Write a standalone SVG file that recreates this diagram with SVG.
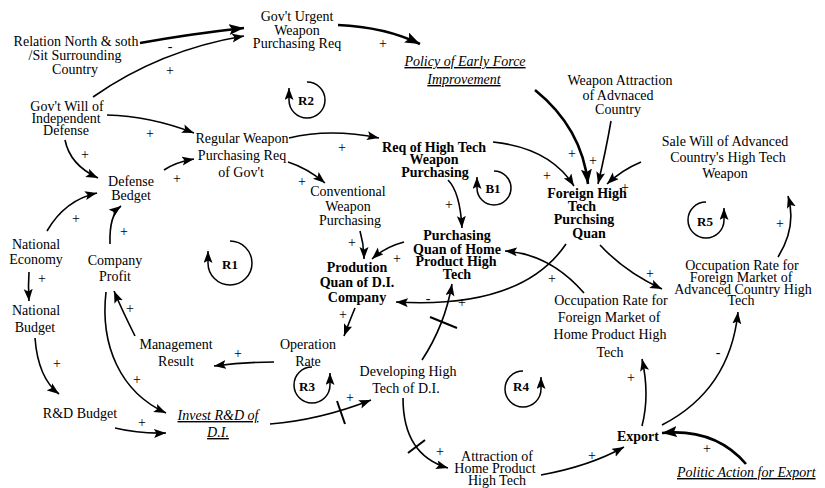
<svg xmlns="http://www.w3.org/2000/svg" width="825" height="488" viewBox="0 0 825 488">
<style>
text{font-family:"Liberation Serif","Times New Roman",serif}
.t{font-size:14px;fill:#000;text-anchor:middle}
.b{font-weight:bold}
.i{font-style:italic;text-decoration:underline}
.s{font-size:14px;fill:#000;text-anchor:middle;dominant-baseline:central}
.lp{font-size:13px;font-weight:bold;fill:#000;text-anchor:middle}
.c{fill:none;stroke:#000;stroke-width:1.6;marker-end:url(#ah)}
.k{fill:none;stroke:#000;stroke-width:2.6;marker-end:url(#ahL)}
.l{fill:none;stroke:#000;stroke-width:1.5;marker-end:url(#ah)}
.d{stroke:#000;stroke-width:2;fill:none}
</style>
<defs>
<marker id="ah" markerUnits="userSpaceOnUse" markerWidth="14" markerHeight="10" refX="12" refY="4.5" orient="auto">
<path d="M0,0 L12,4.5 L0,9 L2.5,4.5 z" fill="#000"/>
</marker>
<marker id="ahL" markerUnits="userSpaceOnUse" markerWidth="18" markerHeight="12" refX="15" refY="5.5" orient="auto">
<path d="M0,0 L15,5.5 L0,11 L3,5.5 z" fill="#000"/>
</marker>
</defs>
<rect width="825" height="488" fill="#fff"/>

<g id="connectors">
<path class="k" d="M140,43 Q190,34 244,28"/>
<path class="c" d="M93,97 Q160,50 244,36"/>
<path class="k" d="M338,25 Q385,27 420,44"/>
<path class="c" d="M107,115 Q150,116 194,133"/>
<path class="c" d="M65,140 Q70,165 98,178"/>
<path class="c" d="M47,231 Q65,200 97,193"/>
<path class="c" d="M110,244 Q109,215 121,206"/>
<path class="c" d="M164,170 Q176,162 194,159"/>
<path class="c" d="M289,138 Q330,128 379,138"/>
<path class="c" d="M288,162 Q307,168 325,183"/>
<path class="c" d="M448,180 Q460,192 462,228"/>
<path class="c" d="M493,142 Q550,148 574,186"/>
<path class="k" d="M535,90 Q582,128 588,184"/>
<path class="c" d="M611,121 Q606,150 598,184"/>
<path class="c" d="M641,162 Q622,170 607,184"/>
<path class="c" d="M360,231 Q364,245 364,259"/>
<path class="c" d="M404,242 Q385,247 372,259"/>
<path class="c" d="M566,244 C545,275 500,308 396,302"/>
<path class="c" d="M584,293 Q550,254 505,251"/>
<path class="c" d="M600,245 Q625,272 662,289"/>
<path class="c" d="M778,257 Q797,227 788,196"/>
<path class="c" d="M662,425 Q730,390 738,312"/>
<path class="c" d="M642,426 Q650,395 642,359"/>
<path class="c" d="M541,475 Q590,466 624,447"/>
<path class="k" d="M746,464 Q715,428 662,433"/>
<path class="c" d="M403,398 Q403,455 448,468"/>
<path class="c" d="M270,424 Q320,420 371,400"/>
<path class="c" d="M422,360 Q445,325 452,284"/>
<path class="c" d="M355,308 Q350,320 344,336"/>
<path class="c" d="M274,362 Q245,362 214,366"/>
<path class="c" d="M135,336 Q122,310 114,291"/>
<path class="c" d="M106,292 C100,345 120,392 166,413"/>
<path class="c" d="M29,272 Q28,286 29,301"/>
<path class="c" d="M35,338 Q38,378 59,394"/>
<path class="c" d="M115,428 Q140,434 166,433"/>
<path class="d" d="M337,401 L345,424"/>
<path class="d" d="M430,317 L457,328"/>
<path class="d" d="M408,453 L425,440"/>
</g>

<g id="loops">
<path class="l" d="M230,241 A22,22 0 1 1 208,263 L208,251"/>
<text class="lp" x="230" y="269">R1</text>
<path class="l" d="M307,82 A18,18 0 1 1 289,100 L289,88"/>
<text class="lp" x="306" y="105">R2</text>
<path class="l" d="M494,171 A17,17 0 1 1 477,188 L477,177"/>
<text class="lp" x="493" y="193">B1</text>
<path class="l" d="M312,367 A18,18 0 1 0 330,385 L330,373"/>
<text class="lp" x="307" y="391">R3</text>
<path class="l" d="M523,371 A18,18 0 1 0 541,389 L541,377"/>
<text class="lp" x="521" y="391">R4</text>
<path class="l" d="M706,202 A18,18 0 1 0 724,220 L724,208"/>
<text class="lp" x="705" y="226">R5</text>
</g>

<g id="signs">
<text class="s" x="170" y="46">-</text>
<text class="s" x="170" y="70">+</text>
<text class="s" x="383" y="43">+</text>
<text class="s" x="150" y="133">+</text>
<text class="s" x="85" y="154">+</text>
<text class="s" x="177" y="178">+</text>
<text class="s" x="342" y="147">+</text>
<text class="s" x="302" y="181">+</text>
<text class="s" x="76" y="218">+</text>
<text class="s" x="124" y="231">+</text>
<text class="s" x="42" y="278">+</text>
<text class="s" x="130" y="308">+</text>
<text class="s" x="57" y="363">+</text>
<text class="s" x="137" y="379">+</text>
<text class="s" x="142" y="422">+</text>
<text class="s" x="238" y="353">+</text>
<text class="s" x="352" y="242">+</text>
<text class="s" x="397" y="258">+</text>
<text class="s" x="343" y="314">+</text>
<text class="s" x="449" y="204">+</text>
<text class="s" x="428" y="298">-</text>
<text class="s" x="462" y="302">+</text>
<text class="s" x="350" y="397">+</text>
<text class="s" x="440" y="451">+</text>
<text class="s" x="547" y="175">+</text>
<text class="s" x="572" y="153">+</text>
<text class="s" x="593" y="160">+</text>
<text class="s" x="625" y="187">+</text>
<text class="s" x="552" y="278">+</text>
<text class="s" x="650" y="273">+</text>
<text class="s" x="780" y="223">+</text>
<text class="s" x="718" y="352">-</text>
<text class="s" x="631" y="377">+</text>
<text class="s" x="592" y="455">+</text>
<text class="s" x="707" y="448">+</text>
</g>

<g id="n-urgent"><text class="t"><tspan x="297" y="21">Gov't Urgent</tspan><tspan x="297" y="35">Weapon</tspan><tspan x="297" y="48">Purchasing Req</tspan></text></g>
<g id="n-relation"><text class="t"><tspan x="76" y="46">Relation North &amp; soth</tspan><tspan x="75" y="60">/Sit Surrounding</tspan><tspan x="75" y="74">Country</tspan></text></g>
<g id="n-govwill"><text class="t"><tspan x="67" y="111">Gov't Will of</tspan><tspan x="66" y="123">Independent</tspan><tspan x="66" y="135">Defense</tspan></text></g>
<g id="n-policy"><text class="t i"><tspan x="465" y="66">Policy of Early Force</tspan><tspan x="464" y="84">Improvement</tspan></text></g>
<g id="n-weaponattr"><text class="t"><tspan x="620" y="85">Weapon Attraction</tspan><tspan x="618" y="100">of Advnaced</tspan><tspan x="618" y="114">Country</tspan></text></g>
<g id="n-salewill"><text class="t"><tspan x="725" y="146">Sale Will of Advanced</tspan><tspan x="728" y="162">Country's High Tech</tspan><tspan x="725" y="178">Weapon</tspan></text></g>
<g id="n-regular"><text class="t"><tspan x="242" y="143">Regular Weapon</tspan><tspan x="242" y="160">Purchasing Req</tspan><tspan x="241" y="177">of Gov't</tspan></text></g>
<g id="n-reqhigh"><text class="t b"><tspan x="434" y="152">Req of High Tech</tspan><tspan x="434" y="164">Weapon</tspan><tspan x="435" y="177">Purchasing</tspan></text></g>
<g id="n-foreign"><text class="t b"><tspan x="587" y="198">Foreign High</tspan><tspan x="582" y="211">Tech</tspan><tspan x="584" y="224">Purchsing</tspan><tspan x="589" y="238">Quan</tspan></text></g>
<g id="n-defense"><text class="t"><tspan x="131" y="186">Defense</tspan><tspan x="131" y="200">Bedget</tspan></text></g>
<g id="n-conventional"><text class="t"><tspan x="348" y="196">Conventional</tspan><tspan x="348" y="211">Weapon</tspan><tspan x="350" y="225">Purchasing</tspan></text></g>
<g id="n-purchquan"><text class="t b"><tspan x="457" y="240">Purchasing</tspan><tspan x="457" y="254">Quan of Home</tspan><tspan x="456" y="266">Product High</tspan><tspan x="457" y="279">Tech</tspan></text></g>
<g id="n-natecon"><text class="t"><tspan x="36" y="249">National</tspan><tspan x="36" y="264">Economy</tspan></text></g>
<g id="n-profit"><text class="t"><tspan x="115" y="265">Company</tspan><tspan x="115" y="281">Profit</tspan></text></g>
<g id="n-prodution"><text class="t b"><tspan x="357" y="272">Prodution</tspan><tspan x="357" y="287">Quan of D.I.</tspan><tspan x="357" y="302">Company</tspan></text></g>
<g id="n-occhome"><text class="t"><tspan x="611" y="305">Occupation Rate for</tspan><tspan x="609" y="322">Foreign Market of</tspan><tspan x="610" y="339">Home Product High</tspan><tspan x="610" y="357">Tech</tspan></text></g>
<g id="n-occadv"><text class="t"><tspan x="742" y="270">Occupation Rate for</tspan><tspan x="741" y="282">Foreign Market of</tspan><tspan x="743" y="294">Advanced Country High</tspan><tspan x="741" y="305">Tech</tspan></text></g>
<g id="n-natbudget"><text class="t"><tspan x="36" y="315">National</tspan><tspan x="35" y="332">Budget</tspan></text></g>
<g id="n-management"><text class="t"><tspan x="176" y="349">Management</tspan><tspan x="176" y="366">Result</tspan></text></g>
<g id="n-operation"><text class="t"><tspan x="308" y="349">Operation</tspan><tspan x="308" y="366">Rate</tspan></text></g>
<g id="n-developing"><text class="t"><tspan x="408" y="376">Developing High</tspan><tspan x="406" y="393">Tech of D.I.</tspan></text></g>
<g id="n-rdbudget"><text class="t"><tspan x="80" y="418">R&amp;D Budget</tspan></text></g>
<g id="n-invest"><text class="t i"><tspan x="218" y="420">Invest R&amp;D of</tspan><tspan x="218" y="437">D.I.</tspan></text></g>
<g id="n-attraction"><text class="t"><tspan x="497" y="461">Attraction of</tspan><tspan x="495" y="473">Home Product</tspan><tspan x="497" y="485">High Tech</tspan></text></g>
<g id="n-export"><text class="t b"><tspan x="638" y="441">Export</tspan></text></g>
<g id="n-politic"><text class="t i" style="text-anchor:start"><tspan x="677" y="477">Politic Action for Export</tspan></text></g>
</svg>
